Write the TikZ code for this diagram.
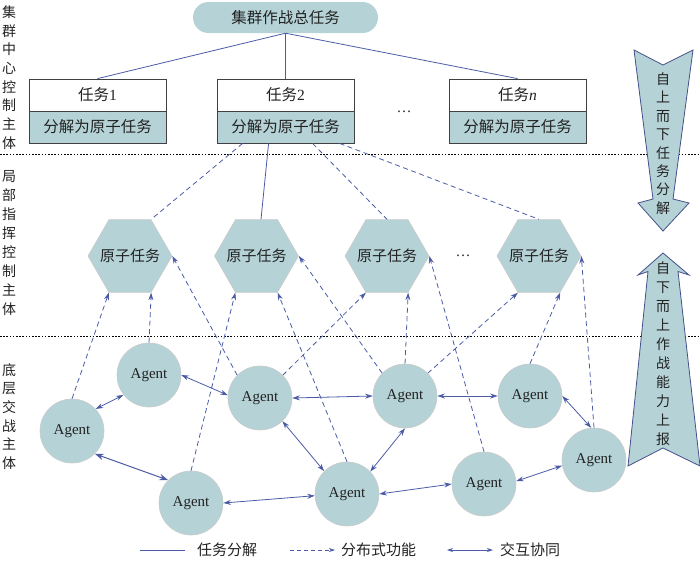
\documentclass[tikz,border=0pt]{standalone}
\usepackage{fontspec}
\setmainfont{Liberation Serif}
\newfontfamily\cjk{Noto Sans CJK SC}
\usetikzlibrary{arrows.meta,shapes.geometric,calc}
\definecolor{tealfill}{HTML}{B5D3D7}
\definecolor{lineblue}{HTML}{4B5BA6}
\definecolor{arrowedge}{HTML}{44508A}
\definecolor{edgegray}{HTML}{CACACA}
\definecolor{txt}{HTML}{222222}
\tikzset{
  agent/.style={circle, fill=tealfill, draw=edgegray, line width=0.6pt, minimum size=64pt, inner sep=0pt, text=txt, font=\fontsize{15}{15}\selectfont},
  hexa/.style={regular polygon, regular polygon sides=6, fill=tealfill, draw=edgegray, line width=0.6pt, minimum size=84pt, inner sep=0pt, text=txt, font=\cjk\fontsize{15}{15}\selectfont},
  taskbox/.style={rectangle, draw=black!75, line width=0.8pt, minimum width=137pt, minimum height=32pt, inner sep=0pt, text=txt, font=\fontsize{15.5}{15.5}\selectfont},
  pill/.style={rectangle, rounded corners=15.5pt, fill=tealfill, minimum width=185pt, minimum height=31pt, inner sep=0pt, text=txt, font=\cjk\fontsize{15.5}{15.5}\selectfont},
  decomp/.style={lineblue, line width=0.8pt},
  decompdash/.style={lineblue, line width=0.8pt, dash pattern=on 5pt off 3.5pt},
  distr/.style={lineblue, line width=0.8pt, dash pattern=on 5pt off 3.5pt, -{Stealth[length=7.5pt,width=5pt]}},
  inter/.style={lineblue, line width=0.8pt, {Stealth[length=7.5pt,width=5pt]}-{Stealth[length=7.5pt,width=5pt]}},
  interbig/.style={lineblue, line width=1pt, {Stealth[length=9pt,width=6.5pt]}-{Stealth[length=9pt,width=6.5pt]}},
  sepline/.style={black, line width=0.6pt, dash pattern=on 1.6pt off 1.6pt},
  sidelabel/.style={align=center, inner sep=0pt, text=txt},
  bigarrow/.style={fill=tealfill, draw=arrowedge, line width=0.8pt},
  legtext/.style={anchor=west, inner sep=0pt, text=txt, font=\cjk\fontsize{15}{15}\selectfont},
}
\begin{document}
\begin{tikzpicture}[x=1pt,y=-1pt]
\useasboundingbox (0,0) rectangle (700,565);

% separators
\draw[sepline] (0,154.5) -- (700,154.5);
\draw[sepline] (0,336) -- (700,336);

% big side arrows
\draw[bigarrow] (634,50) -- (663,65) -- (693,50) -- (673,199) -- (689,203) -- (663,231) -- (638,203) -- (653,199) -- cycle;
\draw[bigarrow] (663,253) -- (689,275) -- (678,271.5) -- (700,466) -- (663,448) -- (628,466) -- (648,271.5) -- (638,275) -- cycle;
\node[sidelabel, font=\cjk\fontsize{14}{18.4}\selectfont] (downtxt) at (663,143.5) {自\\上\\而\\下\\任\\务\\分\\解};
\node[sidelabel, font=\cjk\fontsize{14}{19}\selectfont] (uptxt) at (663,353.5) {自\\下\\而\\上\\作\\战\\能\\力\\上\\报};

% left labels
\node[sidelabel, font=\cjk\fontsize{14}{18.7}\selectfont] (lab1) at (9,77.5) {集\\群\\中\\心\\控\\制\\主\\体};
\node[sidelabel, font=\cjk\fontsize{14}{19}\selectfont] (lab2) at (9,243.5) {局\\部\\指\\挥\\控\\制\\主\\体};
\node[sidelabel, font=\cjk\fontsize{14}{18.6}\selectfont] (lab3) at (9,416.5) {底\\层\\交\\战\\主\\体};

% top task
\node[pill] (top) at (285.5,17.5) {集群作战总任务};

% task boxes
\node[taskbox, fill=white] (T1a) at (97.5,95) {{\cjk 任务}1};
\node[taskbox, fill=tealfill] (T1b) at (97.5,127) {\cjk 分解为原子任务};
\node[taskbox, fill=white] (T2a) at (285.5,95) {{\cjk 任务}2};
\node[taskbox, fill=tealfill] (T2b) at (285.5,127) {\cjk 分解为原子任务};
\node[taskbox, fill=white] (Tna) at (517.5,95) {{\cjk 任务}\textit{n}};
\node[taskbox, fill=tealfill] (Tnb) at (517.5,127) {\cjk 分解为原子任务};
\node[text=txt, inner sep=0pt, font=\fontsize{15}{15}\selectfont] (dots1) at (404,112) {…};

\draw[decomp] (top.south) -- (T1a.north);
\draw[decomp] (top.south) -- (T2a.north);
\draw[decomp] (top.south) -- (Tna.north);

% atomic tasks
\node[hexa] (H1) at (130,256) {\makebox[0pt]{原子任务}};
\node[hexa] (H2) at (256.5,256) {\makebox[0pt]{原子任务}};
\node[hexa] (H3) at (387,256) {\makebox[0pt]{原子任务}};
\node[hexa] (H4) at (539,256) {\makebox[0pt]{原子任务}};
\node[text=txt, inner sep=0pt, font=\fontsize{15}{15}\selectfont] (dots2) at (463,256) {…};

\draw[decompdash] ($(T2b.south west)+(26,0)$) -- (H1.60);
\draw[decomp] ($(T2b.south west)+(52,0)$) -- (H2.83);
\draw[decompdash] ($(T2b.south west)+(96,0)$) -- (H3.north);
\draw[decompdash] ($(T2b.south west)+(123,0)$) -- (H4.north);

% agents
\node[agent] (A1) at (72,431) {Agent};
\node[agent] (A2) at (149,375) {Agent};
\node[agent] (A3) at (260,398) {Agent};
\node[agent] (A4) at (191,503) {Agent};
\node[agent] (A5) at (405,396) {Agent};
\node[agent] (A6) at (530,396) {Agent};
\node[agent] (A7) at (594,460) {Agent};
\node[agent] (A8) at (484,484) {Agent};
\node[agent] (A9) at (347,494) {Agent};

% distributed function (agent -> atomic task)
\draw[distr] (A1.90) -- (H1.-120);
\draw[distr] (A2.90) -- (H1.-60);
\draw[distr] (A3.135) -- (H1.0);
\draw[distr] (A4.90) -- (H2.-120);
\draw[distr] (A9.90) -- (H2.-60);
\draw[distr] (A5.135) -- (H2.0);
\draw[distr] (A3.45) -- (H3.-120);
\draw[distr] (A5.90) -- (H3.-60);
\draw[distr] (A8.90) -- (H3.0);
\draw[distr] (A5.45) -- (H4.-120);
\draw[distr] (A6.90) -- (H4.-60);
\draw[distr] (A7.90) -- (H4.0);

% interaction
\draw[inter] (A1.43) -- (A2.218);
\draw[interbig] (A1.-45) -- (A4.135);
\draw[inter] (A2.0) -- (A3.175);
\draw[inter] (A3.0) -- (A5.180);
\draw[inter] (A3.-46) -- (A9.135);
\draw[inter] (A4.0) -- (A9.183);
\draw[inter] (A5.0) -- (A6.180);
\draw[inter] (A5.-90) -- (A9.44);
\draw[inter] (A6.0) -- (A7.95);
\draw[inter] (A9.0) -- (A8.180);
\draw[inter] (A8.5) -- (A7.190);

% legend
\coordinate (L1a) at (140,550); \coordinate (L1b) at (185,550);
\coordinate (L2a) at (290,550); \coordinate (L2b) at (335,550);
\coordinate (L3a) at (447,550); \coordinate (L3b) at (493,550);
\draw[decomp] (L1a) -- (L1b);
\draw[lineblue, line width=0.8pt, dash pattern=on 4pt off 3pt, -{Stealth[length=6pt,width=4pt]}] (L2a) -- (L2b);
\draw[lineblue, line width=0.8pt, {Stealth[length=6pt,width=4pt]}-{Stealth[length=6pt,width=4pt]}] (L3a) -- (L3b);
\node[legtext] (lt1) at (197,550) {任务分解};
\node[legtext] (lt2) at (341,550) {分布式功能};
\node[legtext] (lt3) at (500,550) {交互协同};
\end{tikzpicture}
\end{document}
